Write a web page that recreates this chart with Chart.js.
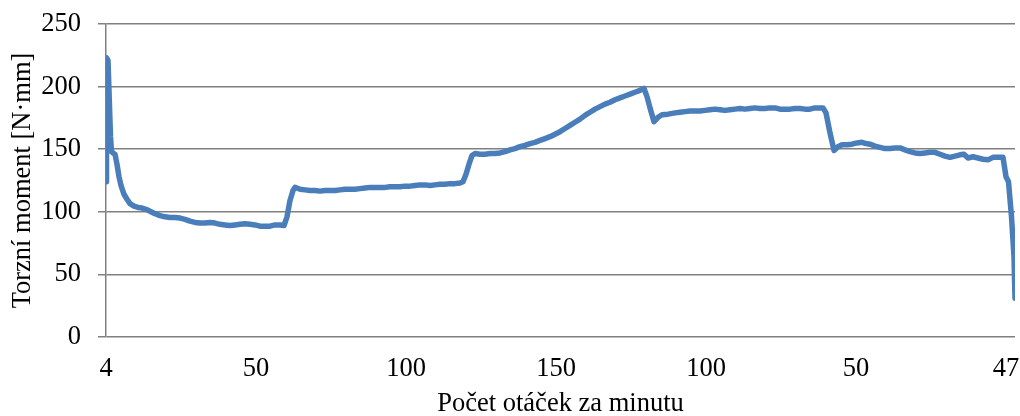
<!DOCTYPE html>
<html>
<head>
<meta charset="utf-8">
<script src="https://cdn.jsdelivr.net/npm/chart.js@4/dist/chart.umd.min.js"></script>
<style>
html,body{margin:0;padding:0;background:#fff;}
#wrap{width:1020px;height:416px;position:relative;}
</style>
</head>
<body>
<div id="wrap"><canvas id="c"></canvas></div>
<script>
// sample position along the run (label interval = 30 samples)
const samplePos = [
0,0.1,0.4,0.9,1.1,1.4,1.8,2.2,2.6,3.0,3.6,4.2,4.8,5.6,6.4,7.2,8.0,8.8,9.8,10.8,
11.8,12.8,13.8,14.8,15.8,16.8,17.8,18.8,19.8,20.8,21.8,22.8,23.8,24.8,25.8,26.8,27.8,28.8,29.8,30.8,
31.8,32.8,33.8,34.8,35.6,36.2,36.8,37.4,37.8,38.8,39.8,40.8,41.8,42.8,43.8,44.8,45.8,46.8,47.8,48.8,
49.8,50.8,51.8,52.8,53.8,54.8,55.8,56.8,57.8,58.8,59.8,60.8,61.8,62.8,63.8,64.8,65.8,66.8,67.8,68.8,
69.8,70.8,71.4,72.0,72.6,73.2,73.8,74.8,75.8,76.8,77.8,78.8,79.8,80.8,81.8,82.8,83.8,84.8,85.8,86.8,
87.8,88.8,89.8,90.8,91.8,92.8,93.8,94.8,95.8,96.8,97.8,98.8,99.8,100.8,101.8,102.8,103.8,104.8,105.8,106.8,
107.6,108.2,108.8,109.6,110.4,111.2,112.4,113.8,114.8,115.8,116.8,117.8,118.8,119.8,120.8,121.8,122.8,123.8,124.8,125.8,
126.8,127.8,128.8,129.8,130.8,131.8,132.8,133.8,134.8,135.8,136.8,137.8,138.8,139.8,140.8,141.8,142.8,143.4,144.0,144.8,
145.6,146.4,147.2,148.2,149.2,150.2,151.2,152.0,152.8,153.8,154.8,155.8,156.8,157.8,158.8,159.8,160.8,161.8,162.8,163.8,
164.8,165.8,166.8,167.8,168.8,169.8,170.8,171.6,172.4,173.4,174.4,175.4,176.4,177.4,178.4,179.4,180.0,180.5,181.1,181.6,
181.8
];
// torque [N·mm]
const torque = [
124,223,221,160,148,147,146,138,128,121,114,110,106.5,104.5,103.5,103,102,100.5,98.5,97,
96,95.5,95.5,95,94,92.5,91.5,91,91,91.5,91,90,89.5,89,89.5,90,90.5,90,89.5,88.5,
88.5,88.5,89.5,89.5,89,96,109,117,119.5,118,117.5,117,117,116.5,117,117,117,117.5,118,118,
118,118.5,119,119.5,119.5,119.5,119.5,120,120,120,120.5,120.5,121,121.5,121.5,121,121.5,122,122,122.5,
122.5,123,124,130,138,145,146.5,146,146,146.5,146.5,147,148,149.5,150.5,152,153,154.5,155.5,157,
158.5,160,162,164,166.5,169,171.5,174,177,179.5,182,184,186,187.5,189.5,191,192.5,194,195.5,197,
198.5,192,183,172,175.5,177.5,178,179,179.5,180,180.5,180.5,180.5,181,181.5,182,181.5,181,181.5,182,
182.5,182,182.5,183,182.5,182.5,183,183,182,182,182,182.5,182.5,182,182,183,183,183,179,163,
149,152,153.5,153.5,154,155,155.5,154.5,154,152.5,151.5,150.5,150.5,151,151,149.5,148,147,146.5,147,
147.5,147.5,146,144.5,143.5,144.5,145.5,146,143,144,143,142,141.5,143.5,143.5,143.5,128,124,96,64,
31
];
const tickPositions = [0,30,60,90,120,150,180];
const tickLabels = ['4','50','100','150','100','50','47'];
const xTitle = 'Počet otáček za minutu';
const yTitle = 'Torzní moment [N·mm]';

const points = samplePos.map((x,i)=>({x:x, y:torque[i]}));
const gridColor = '#808080';
const font = {family:'"Liberation Serif", "Times New Roman", serif', size:26.5};

new Chart(document.getElementById('c'), {
  type:'line',
  data:{datasets:[{
    data:points,
    borderColor:'#4A7EBB',
    borderWidth:5.5,
    pointRadius:0,
    tension:0,
    borderJoinStyle:'round',
    borderCapStyle:'round',
    fill:false
  }]},
  options:{
    responsive:true,
    maintainAspectRatio:false,
    animation:false,
    layout:{padding:{top:24,right:5,bottom:0,left:0}},
    plugins:{legend:{display:false},tooltip:{enabled:false}},
    scales:{
      x:{
        type:'linear',
        min:0,
        max:181.8,
        afterBuildTicks:(axis)=>{axis.ticks = tickPositions.map(v=>({value:v}));},
        afterFit:(axis)=>{axis.height = 79; axis.paddingLeft = 0; axis.paddingRight = 0;},
        grid:{display:false, drawTicks:false},
        border:{display:false},
        ticks:{
          color:'#000',
          font:font,
          padding:16,
          maxRotation:0,
          autoSkip:false,
          callback:(v)=>{const i = tickPositions.indexOf(v); return i>=0 ? tickLabels[i] : '';}
        },
        title:{display:true, text:xTitle, color:'#000', font:{...font, lineHeight:0.9}, padding:{top:0,bottom:0}}
      },
      y:{
        min:0,
        max:250,
        afterFit:(axis)=>{axis.width = 106; axis.paddingTop = 0; axis.paddingBottom = 0;},
        ticks:{stepSize:50, color:'#000', font:font, padding:17},
        grid:{color:gridColor, lineWidth:1.5, drawTicks:true, tickLength:8},
        border:{display:true, color:gridColor, width:1.5},
        title:{display:true, text:yTitle, color:'#000', font:{...font, lineHeight:1}, padding:{top:10,bottom:0}}
      }
    }
  }
});
</script>
</body>
</html>
